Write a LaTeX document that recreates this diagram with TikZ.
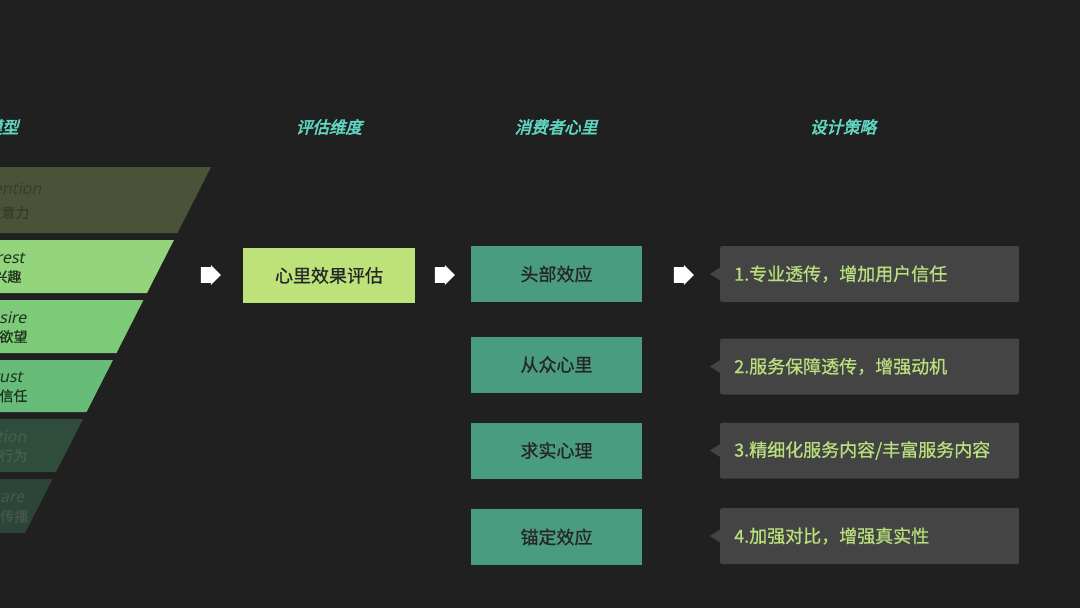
\documentclass[tikz,border=0pt]{standalone}
\usepackage{fontspec}
\setmainfont{Noto Sans CJK SC}[FakeBold=1.5]
\newfontfamily\hd{Noto Sans CJK SC}[FakeSlant=0.25,FakeBold=3]
\newfontfamily\md{Noto Sans CJK SC}[FakeBold=0.8]
\newfontfamily\en{Noto Sans}[FakeSlant=0.2]
\usetikzlibrary{shapes.arrows}
\definecolor{bg}{HTML}{212021}
\definecolor{cyanh}{HTML}{5ED6C2}
\definecolor{lime}{HTML}{BDE27A}
\definecolor{teal}{HTML}{4A9C80}
\definecolor{sgrey}{HTML}{444444}
\definecolor{stext}{HTML}{B8E07C}
\begin{document}
\begin{tikzpicture}[x=1pt,y=-1pt,
  head/.style={font=\hd\fontsize{16.5}{16.5}\selectfont,text=cyanh},
  lbox/.style={fill=lime,minimum width=172pt,minimum height=55pt,font=\md\fontsize{18}{18}\selectfont,text=black!85},
  cbox/.style={fill=teal,minimum width=171pt,minimum height=56pt,font=\md\fontsize{18}{18}\selectfont,text=black!85},
  sbox/.style={fill=sgrey,minimum width=299pt,minimum height=56pt,rounded corners=2pt,font=\md\fontsize{18}{18}\selectfont,text=stext,anchor=west,inner xsep=14pt,text width=271pt,align=left},
  warrow/.style={single arrow,fill=white,minimum height=20pt,minimum width=20pt,single arrow head extend=1pt,inner sep=3.5pt},
  ftext/.style={anchor=east,font=\en\bfseries\fontsize{16}{16}\selectfont},
  ctext/.style={anchor=east,font=\md\fontsize{14}{14}\selectfont}]
\fill[bg] (0,0) rectangle (1080,608);
\useasboundingbox (0,0) rectangle (1080,608);
\def\fx#1{211-0.508*(#1-167)}
\begin{scope}
\clip (0,0) rectangle (1080,608);
\foreach \ya/\yb/\c/\t/\w/\z/\tc/\xa/\xb in {
 167/233/4A5238/Attention/吸引注意力/0/343E2C/45/33,
 240/293/93D47C/Interest/产生兴趣/1/1F3320/28/25,
 300/353/7DCB79/Desire/点燃欲望/2/1F3320/30/31,
 360/412/66BC78/Trust/构建信任/3/1F3320/26/31,
 419/472/2F4C3C/Action/落实行为/4/46604F/30/31,
 479/533/2D4539/Share/分享传播/5/42594B/28/32}{
  \definecolor{bc}{HTML}{\c}\definecolor{tcc}{HTML}{\tc}
  \fill[bc] (-10,\ya) -- ({\fx{\ya}},\ya) -- ({\fx{\yb}},\yb) -- (-10,\yb) -- cycle;
  \node[ftext,text=tcc] (f\z a) at (\xa,{\ya+(\yb-\ya)*0.33}) {\t};
  \node[ctext,text=tcc] (f\z b) at (\xb,{\ya+(\yb-\ya)*0.69}) {\w};
}
\node[head,anchor=east] (h0) at (22,127) {AIDTAS模型};
\end{scope}
\node[head] (h1) at (329,127) {评估维度};
\node[head] (h2) at (556,127) {消费者心里};
\node[head] (h3) at (843,127) {设计策略};
\node[lbox] (eval) at (329,275.5) {心里效果评估};
\node[cbox] (c1) at (556.5,274) {头部效应};
\node[cbox] (c2) at (556.5,364.5) {从众心里};
\node[cbox] (c3) at (556.5,450.5) {求实心理};
\node[cbox] (c4) at (556.5,537) {锚定效应};
\foreach \i/\y/\t in {1/274/{1.专业透传，增加用户信任},2/366.5/{2.服务保障透传，增强动机},3/450.5/{3.精细化服务内容/丰富服务内容},4/536/{4.加强对比，增强真实性}}{
  \fill[sgrey] (721,\y-7) -- (710,\y) -- (721,\y+7) -- cycle;
  \node[sbox] (s\i) at (720,\y) {\t};
}
\node[warrow] (a1) at (207,275) {};
\node[warrow] (a2) at (441,275) {};
\node[warrow] (a3) at (680,275) {};
\end{tikzpicture}
\end{document}
